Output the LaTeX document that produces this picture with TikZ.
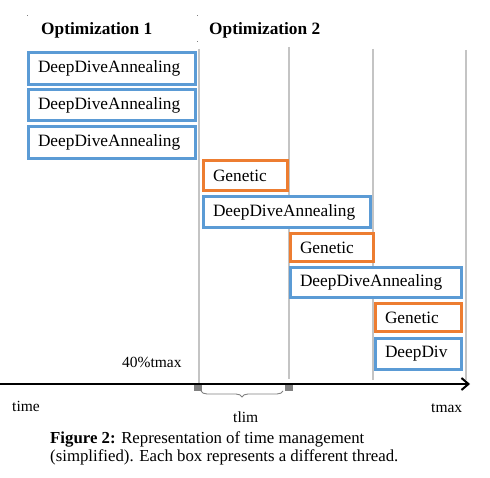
\documentclass[tikz,border=0pt]{standalone}
\usepackage{fontspec}
\setmainfont{Liberation Serif}
\usetikzlibrary{arrows.meta,decorations.pathreplacing}
\definecolor{bblue}{HTML}{5B9BD5}
\definecolor{borange}{HTML}{ED7D31}
\definecolor{gline}{HTML}{C4C4C4}
\definecolor{gmark}{HTML}{808080}
\tikzset{
  tbox/.style n args={3}{draw=#1, line width=3pt, fill=white, outer sep=0pt,
    inner xsep=9.5pt, inner ysep=0pt, minimum width=#2, text width=#3,
    align=left, font=\fontsize{17.3}{19}\selectfont},
  hdr/.style={anchor=base west, inner sep=0pt, font=\fontsize{17.3}{20}\selectfont\bfseries},
  lbl/.style={anchor=base west, inner sep=0pt, font=\fontsize{15.5}{18}\selectfont},
  captxt/.style={anchor=base west, inner sep=0pt, font=\fontsize{16.8}{19}\selectfont},
  tline/.style={draw=gline, line width=2.5pt},
}
\begin{document}
\begin{tikzpicture}[x=1pt,y=-1pt]
\useasboundingbox (0,0) rectangle (490,478);
% tiny table dots
\fill[gray] (26.5,15.5) rectangle (27.5,16.5);
\fill[gray] (196.5,15.5) rectangle (197.5,16.5);
\fill[gray] (196.5,41.5) rectangle (197.5,42.5);
% headers
\node[hdr] (h1) at (41,35) {Optimization 1};
\node[hdr] (h2) at (209,35) {Optimization 2};
% time lines
\coordinate (l1t) at (199,49); \coordinate (l1b) at (199,383);
\coordinate (l2t) at (289,47); \coordinate (l2b) at (289,379);
\coordinate (l3t) at (373,49); \coordinate (l3b) at (373,380);
\coordinate (l4t) at (466,50); \coordinate (l4b) at (466,380);
\draw[tline] (l1t) -- (l1b);
\draw[tline] (l2t) -- (l2b);
\draw[tline] (l3t) -- (l3b);
\draw[tline] (l4t) -- (l4b);
% boxes
\node[tbox={bblue}{167pt}{148pt}, minimum height=32pt] (d1) at (112,68.5) {DeepDiveAnnealing};
\node[tbox={bblue}{167pt}{148pt}, minimum height=31pt] (d2) at (112,105) {DeepDiveAnnealing};
\node[tbox={bblue}{167pt}{148pt}, minimum height=32pt] (d3) at (112,142.5) {DeepDiveAnnealing};
\node[tbox={borange}{84pt}{65pt}, minimum height=30pt] (g1) at (245.5,175.5) {Genetic};
\node[tbox={bblue}{167pt}{148pt}, minimum height=31pt] (d4) at (287,212) {DeepDiveAnnealing};
\node[tbox={borange}{83pt}{64pt}, minimum height=28pt] (g2) at (332,247.5) {Genetic};
\node[tbox={bblue}{171pt}{152pt}, minimum height=30pt] (d5) at (376,282.5) {DeepDiveAnnealing};
\node[tbox={borange}{86pt}{67pt}, minimum height=28pt] (g3) at (418.5,317.5) {Genetic};
\node[tbox={bblue}{86pt}{67pt}, minimum height=31pt] (d6) at (418.5,354) {DeepDiv};
% axis
\coordinate (a0) at (0,384);
\coordinate (a1) at (470,384);
\draw[line width=2pt, -{Straight Barb[length=7pt,width=12pt,line width=2pt]}] (a0) -- (a1);
\fill[gmark] (194,385) rectangle (202,390.5);
\fill[gmark] (285,385) rectangle (293,390.5);
\coordinate (b0) at (201,391);
\coordinate (b1) at (283,391);
\draw[gmark, line width=0.9pt, decorate, decoration={brace, amplitude=6pt, mirror}] (b0) -- (b1);
% labels
\node[lbl] (p40) at (122,367) {40\%tmax};
\node[lbl] (tm) at (12,411) {time};
\node[lbl] (tx) at (431,412) {tmax};
\node[lbl] (tl) at (233,422) {tlim};
\node[captxt] (c1) at (50,443) {\textbf{Figure 2:} Representation of time management};
\node[captxt] (c2) at (50,461) {(simplified). Each box represents a different thread.};
\end{tikzpicture}
\end{document}
